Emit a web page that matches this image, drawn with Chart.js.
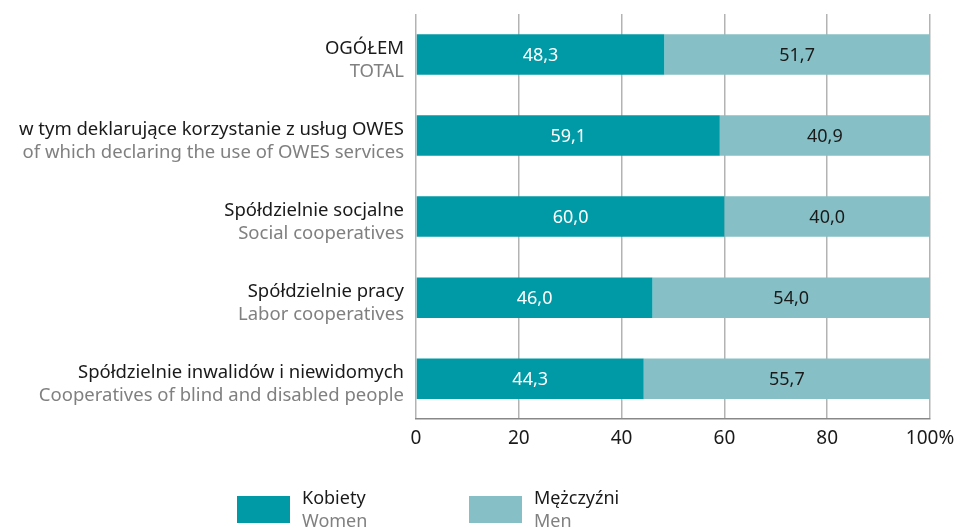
<!DOCTYPE html>
<html>
<head>
<meta charset="utf-8">
<script src="https://cdn.jsdelivr.net/npm/chart.js@4"></script>
<style>
  body { margin: 0; background: #fff; }
  #wrap { width: 966px; height: 528px; }
</style>
</head>
<body>
<div id="wrap"><canvas id="myChart"></canvas></div>
<script>
var labelsPl = ["OGÓŁEM", "w tym deklarujące korzystanie z usług OWES", "Spółdzielnie socjalne", "Spółdzielnie pracy", "Spółdzielnie inwalidów i niewidomych"];
var labelsEn = ["TOTAL", "of which declaring the use of OWES services", "Social cooperatives", "Labor cooperatives", "Cooperatives of blind and disabled people"];
var women = [48.3, 59.1, 60.0, 46.0, 44.3];
var men = [51.7, 40.9, 40.0, 54.0, 55.7];
var xTicks = ["0", "20", "40", "60", "80", "100%"];
var seriesPl = ["Kobiety", "Mężczyźni"];
var seriesEn = ["Women", "Men"];

var FONT = '"Noto Sans", sans-serif';

var extras = {
    id: 'extras',
    afterDatasetsDraw: function(chart) {
        var ctx = chart.ctx;
        var y = chart.scales.y;
        ctx.save();
        ctx.font = '18.5px ' + FONT;
        ctx.textBaseline = 'middle';

        // category labels
        ctx.textAlign = 'right';
        for (var i = 0; i < labelsPl.length; i++) {
            var cy = y.getPixelForValue(i);
            ctx.fillStyle = '#1a1a1a';
            ctx.fillText(labelsPl[i], 404, cy - 6);
            ctx.fillStyle = '#808080';
            ctx.fillText(labelsEn[i], 404, cy + 17);
        }

        // value labels
        ctx.font = '18px ' + FONT;
        ctx.textAlign = 'center';
        chart.data.datasets.forEach(function(ds, di) {
            var meta = chart.getDatasetMeta(di);
            meta.data.forEach(function(bar, j) {
                var cx = (bar.x + bar.base) / 2;
                ctx.fillStyle = di === 0 ? '#ffffff' : '#1a1a1a';
                ctx.fillText(ds.data[j].toFixed(1).replace('.', ','), cx, bar.y + 1);
            });
        });

        // legend
        var lx = [237, 469];
        ctx.textAlign = 'left';
        chart.data.datasets.forEach(function(ds, di) {
            ctx.fillStyle = ds.backgroundColor;
            ctx.fillRect(lx[di], 496, 53, 27);
            ctx.fillStyle = '#1a1a1a';
            ctx.fillText(seriesPl[di], lx[di] + 65, 499);
            ctx.fillStyle = '#808080';
            ctx.fillText(seriesEn[di], lx[di] + 65, 522);
        });
        ctx.restore();
    }
};

var ctx = document.getElementById("myChart").getContext("2d");
var myChart = new Chart(ctx, {
    type: 'bar',
    data: {
        labels: labelsPl,
        datasets: [
            { label: seriesPl[0], data: women, backgroundColor: '#009aa6' },
            { label: seriesPl[1], data: men, backgroundColor: '#86c0c6' }
        ]
    },
    options: {
        indexAxis: 'y',
        responsive: true,
        maintainAspectRatio: false,
        animation: false,
        events: [],
        layout: { padding: { left: 416, right: 36, top: 14, bottom: 70 } },
        plugins: { legend: { display: false }, tooltip: { enabled: false } },
        datasets: { bar: { categoryPercentage: 1, barPercentage: 0.5 } },
        scales: {
            x: {
                stacked: true,
                min: 0,
                max: 100,
                ticks: {
                    stepSize: 20,
                    color: '#1a1a1a',
                    font: { size: 19, family: FONT },
                    padding: 8,
                    callback: function(v, i) { return xTicks[i]; }
                },
                grid: { color: '#b3b3b3', lineWidth: 1.5, drawTicks: false },
                border: { display: true, color: '#888888', width: 1.5 }
            },
            y: {
                stacked: true,
                display: false,
                grid: { display: false }
            }
        }
    },
    plugins: [extras]
});
</script>
</body>
</html>
